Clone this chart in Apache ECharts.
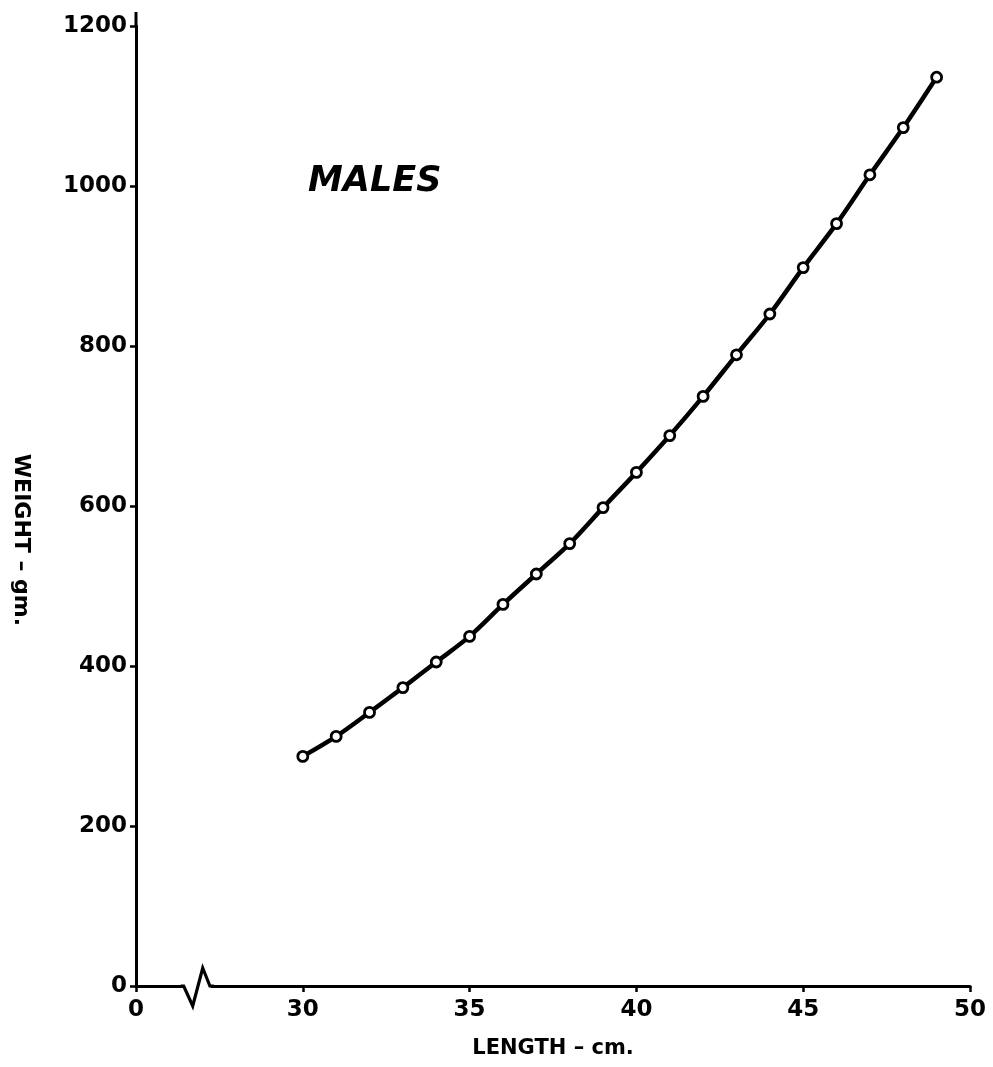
<!DOCTYPE html>
<html>
<head>
<meta charset="utf-8">
<script src="https://cdn.jsdelivr.net/npm/echarts@6/dist/echarts.min.js"></script>
<style>
html,body{margin:0;padding:0;background:#fff;}
#c{width:993px;height:1067px;}
</style>
</head>
<body>
<div id="c"></div>
<script>
// Data
const lengths = [30,31,32,33,34,35,36,37,38,39,40,41,42,43,44,45,46,47,48,49];
const weights = [287,312,342,373,405,437,477,515,553,598,642,688,737,789,840,898,953,1014,1073,1136];
const xTicks = [0,30,35,40,45,50];   // shown tick labels (0 sits at the broken-axis origin)
const yTicks = [0,200,400,600,800,1000,1200];
const titleText = 'MALES';
const xName = 'LENGTH – cm.';
const yName = 'WEIGHT – gm.';

// The x axis is broken between 0 and 30: the origin is drawn one interval (5 cm) before 30.
const X_ORIGIN = 25;

const chart = echarts.init(document.getElementById('c'), null, {renderer:'canvas'});
const font = 'DejaVu Sans';
const option = {
  backgroundColor:'#fff',
  animation:false,
  grid:{left:136, right:23, top:26, bottom:81, containLabel:false, outerBoundsMode:'none'},
  title:{text:titleText, left:303, top:159,
    textStyle:{fontFamily:font, fontSize:35, fontWeight:'bold', fontStyle:'italic', color:'#000'}},
  xAxis:{type:'value', min:X_ORIGIN, max:50, interval:5,
    name:xName, nameLocation:'middle', nameGap:52,
    nameTextStyle:{fontFamily:font, fontSize:21, fontWeight:'bold', color:'#000'},
    axisLine:{lineStyle:{color:'#000', width:3}},
    axisTick:{show:true, length:6, lineStyle:{color:'#000', width:2.5}},
    axisLabel:{fontFamily:font, fontSize:23, fontWeight:'bold', color:'#000', margin:13,
      formatter:v=> v===X_ORIGIN ? String(xTicks[0]) : (xTicks.indexOf(v)>=0 ? String(v) : '')},
    splitLine:{show:false}},
  yAxis:{type:'value', min:yTicks[0], max:yTicks[yTicks.length-1], interval:200,
    name:yName, nameLocation:'middle', nameGap:104, nameRotate:-90,
    nameTextStyle:{fontFamily:font, fontSize:22, fontWeight:'bold', color:'#000', padding:[0,0,0,68]},
    axisLine:{show:true, lineStyle:{color:'#000', width:3}},
    axisTick:{show:true, length:6, lineStyle:{color:'#000', width:2.5}},
    axisLabel:{fontFamily:font, fontSize:23, fontWeight:'bold', color:'#000', margin:9,
      formatter:v=> yTicks.indexOf(v)>=0 ? String(v) : ''},
    splitLine:{show:false}},
  series:[{type:'line', data:lengths.map((x,i)=>[x,weights[i]]),
    smooth:0.3, symbol:'circle', symbolSize:10,
    lineStyle:{color:'#000', width:4.5},
    itemStyle:{color:'#fff', borderColor:'#000', borderWidth:2.8},
    z:3}]
};
chart.setOption(option);

// Axis-break zigzag and the y-axis overshoot, positioned from the axis scale
function drawExtras(){
  const p0 = chart.convertToPixel({gridIndex:0},[X_ORIGIN,0]);
  const p1 = chart.convertToPixel({gridIndex:0},[30,0]);
  const pTop = chart.convertToPixel({gridIndex:0},[X_ORIGIN,yTicks[yTicks.length-1]]);
  const w = p1[0]-p0[0];
  const y = p0[1];
  const xa = p0[0]+w*0.28, xb = p0[0]+w*0.34, xc = p0[0]+w*0.40, xd = p0[0]+w*0.455;
  chart.setOption({graphic:[
    {type:'rect', shape:{x:xa+1, y:y-3, width:xd-xa-2, height:6}, style:{fill:'#fff'}, z:10},
    {type:'polyline', shape:{points:[[xa-2,y],[xa+1,y],[xb,y+20],[xc,y-18],[xd-2,y],[xd+2,y]]},
      style:{stroke:'#000', lineWidth:3.2, fill:null, lineJoin:'miter'}, z:11},
    {type:'line', shape:{x1:pTop[0], y1:pTop[1]+1, x2:pTop[0], y2:pTop[1]-14},
      style:{stroke:'#000', lineWidth:3}, z:11}
  ]});
}
drawExtras();
</script>
</body>
</html>
